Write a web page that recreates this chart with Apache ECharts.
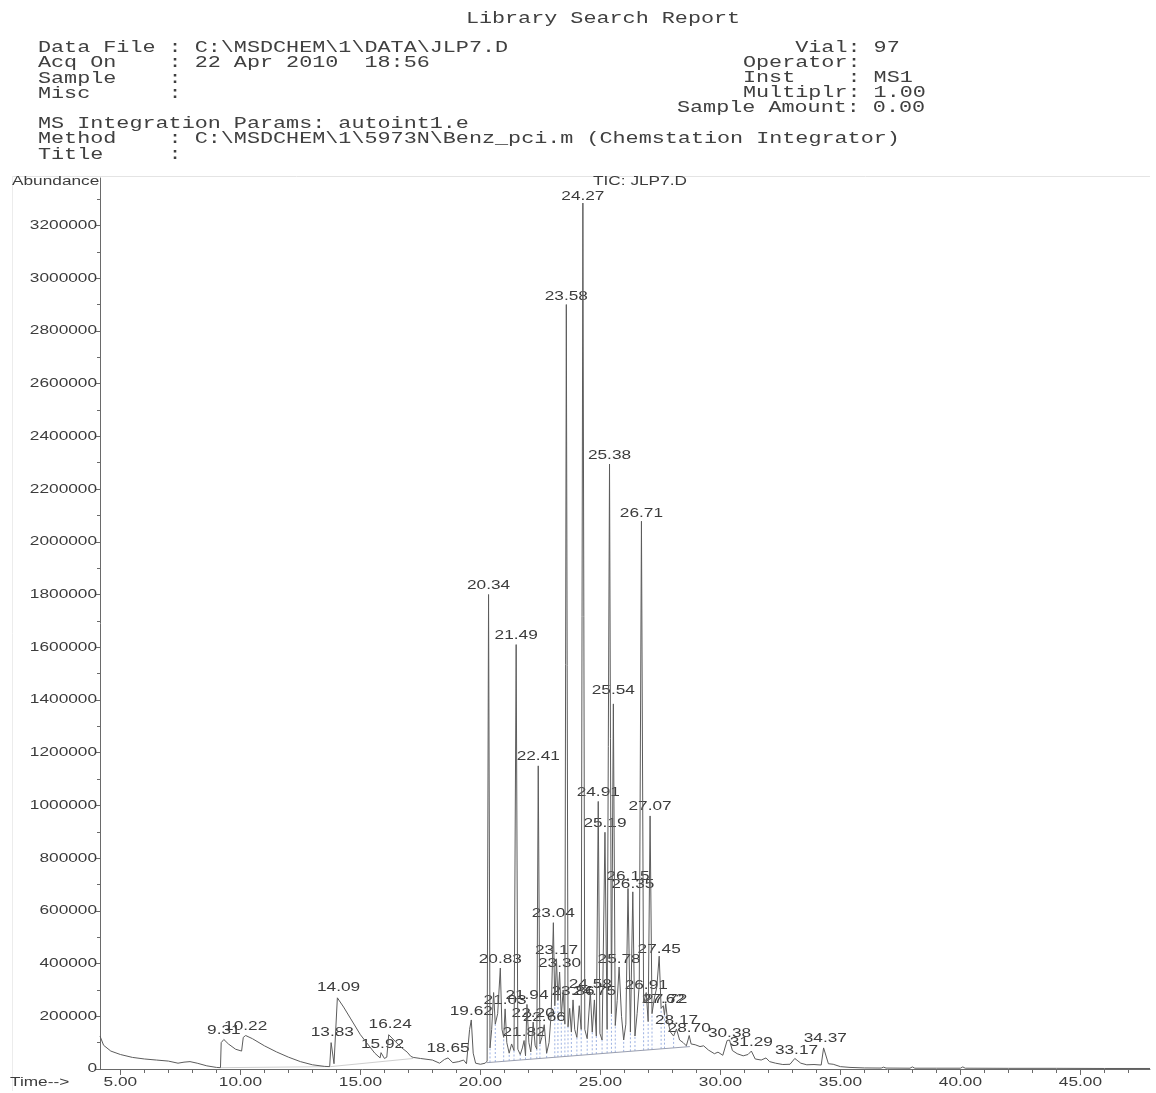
<!DOCTYPE html>
<html><head><meta charset="utf-8">
<script src="https://cdn.jsdelivr.net/npm/echarts@6/dist/echarts.min.js"></script>
<style>html,body{margin:0;padding:0;background:#fff;}#c{width:1156px;height:1093px;}</style>
</head><body><div id="c"></div>
<script>
// ---------- text of the report header ----------
const reportTitle = "Library Search Report";
const headerLeft = [
  "Data File : C:\\MSDCHEM\\1\\DATA\\JLP7.D",
  "Acq On    : 22 Apr 2010  18:56",
  "Sample    :",
  "Misc      :",
  "",
  "MS Integration Params: autoint1.e",
  "Method    : C:\\MSDCHEM\\1\\5973N\\Benz_pci.m (Chemstation Integrator)",
  "Title     :"
];
const headerRight = [
  "    Vial: 97",
  "Operator:",
  "Inst    : MS1",
  "Multiplr: 1.00",
  "Sample Amount: 0.00"
];
const yAxisName = "Abundance";
const xAxisName = "Time-->";
const traceName = "TIC: JLP7.D";

// ---------- axis ticks ----------
const xTicks = [5, 10, 15, 20, 25, 30, 35, 40, 45];
const xMinorTicks = [5,6,7,8,9,10,11,12,13,14,15,16,17,18,19,20,21,22,23,24,25,26,27,28,29,30,31,32,33,34,35,36,37,38,39,40,41,42,43,44,45,46,47];
const yTicks = [0,200000,400000,600000,800000,1000000,1200000,1400000,1600000,1800000,2000000,2200000,2400000,2600000,2800000,3000000,3200000];
const yMinorTicks = [100000,300000,500000,700000,900000,1100000,1300000,1500000,1700000,1900000,2100000,2300000,2500000,2700000,2900000,3100000,3300000];

// ---------- TIC trace [time (min), abundance] ----------
const traceEarly = [
  [4.15,125000],[4.3,90000],[4.6,68000],[5.0,55000],[5.5,44000],[6.0,38000],[6.5,34000],[7.0,30000],
  [7.4,22000],[7.65,26000],[7.9,28000],[8.2,22000],[8.6,12000],[9.0,6000],[9.17,5000],
  [9.2,100000],[9.31,112000],[9.5,95000],[9.8,75000],[10.05,68000],[10.12,120000],[10.22,127000],
  [10.5,115000],[11.0,88000],[11.5,65000],[12.0,45000],[12.5,28000],[13.0,16000],[13.5,10000],
  [13.72,9000],[13.78,100000],[13.83,104000],[13.9,20000],[13.98,15000],[14.04,270000],[14.09,276000],
  [14.3,235000],[14.6,190000],[15.0,130000],[15.3,95000],[15.6,60000],[15.82,42000],[15.86,62000],
  [15.92,66000],[16.0,40000],[16.1,45000],[16.18,130000],[16.24,136000],[16.45,105000],[16.7,82000],
  [16.95,64000],[17.1,48000],[17.2,44000],[17.5,40000],[18.0,34000],[18.3,22000],[18.5,36000],
  [18.65,42000],[18.85,24000],[19.1,28000],[19.3,34000],[19.42,20000],[19.55,150000],[19.62,186000],
  [19.7,60000],[19.8,22000],[20.0,18000]
];
const traceCluster = [
  [20.2,22000],[20.28,30000],[20.34,1800000],[20.40,80000],[20.47,150000],[20.55,290000],[20.62,170000],
  [20.72,210000],[20.83,383000],[20.90,150000],[20.97,120000],[21.03,228000],[21.10,100000],[21.20,60000],
  [21.30,95000],[21.40,70000],[21.49,1610000],[21.56,75000],[21.66,55000],[21.75,80000],[21.82,108000],
  [21.88,50000],[21.94,245000],[22.02,100000],[22.10,65000],[22.20,178000],[22.28,90000],[22.35,75000],
  [22.41,1150000],[22.48,95000],[22.56,120000],[22.66,168000],[22.76,60000],[22.86,100000],[22.95,210000],
  [23.04,555000],[23.10,240000],[23.17,418000],[23.23,260000],[23.30,368000],[23.37,200000],[23.45,300000],
  [23.52,170000],[23.58,2900000],[23.65,160000],[23.72,230000],[23.79,140000],[23.86,262000],[23.93,150000],
  [24.02,120000],[24.12,240000],[24.20,150000],[24.27,3285000],[24.35,150000],[24.45,115000],[24.58,292000],
  [24.66,140000],[24.75,262000],[24.83,125000],[24.91,1015000],[24.98,135000],[25.07,110000],[25.19,898000],
  [25.28,150000],[25.38,2295000],[25.46,210000],[25.54,1385000],[25.62,165000],[25.70,260000],[25.78,387000],
  [25.88,200000],[25.97,110000],[26.06,170000],[26.15,685000],[26.25,140000],[26.35,672000],[26.44,125000],
  [26.53,210000],[26.62,320000],[26.71,2078000],[26.80,250000],[26.91,290000],[26.99,180000],[27.07,960000],
  [27.15,210000],[27.25,270000],[27.35,310000],[27.45,428000],[27.53,230000],[27.62,240000],[27.67,205000],
  [27.72,248000],[27.80,185000],[27.92,140000],[28.05,125000],[28.17,152000],[28.30,110000],[28.45,100000],
  [28.58,88000],[28.65,110000],[28.70,127000],[28.78,95000]
];
const traceTail = [
  [28.95,92000],[29.15,85000],[29.3,88000],[29.5,72000],[29.75,58000],[29.9,64000],[30.1,52000],
  [30.28,108000],[30.38,110000],[30.5,70000],[30.7,58000],[30.95,50000],[31.15,55000],[31.29,68000],
  [31.45,38000],[31.7,34000],[31.9,42000],[32.05,28000],[32.3,22000],[32.6,17000],[32.9,18000],
  [33.1,40000],[33.17,42000],[33.35,22000],[33.6,16000],[33.9,17000],[34.2,15000],[34.3,80000],
  [34.37,82000],[34.5,20000],[34.7,18000],[35.0,9000],[35.4,6000],[36.0,4000],[36.7,3500],[36.8,7000],
  [36.9,3500],[37.9,3000],[38.0,8000],[38.1,3000],[39.0,3000],[40.0,3000],[40.1,8000],[40.2,3000],
  [42.0,2500],[44.0,2500],[46.0,2000],[47.9,2000]
];

// ---------- integration baselines [time, abundance] ----------
const baselineA = [[9.18,5000],[13.72,9000]];
const baselineB = [[13.75,9000],[17.2,40000]];
const baselineCluster = [[20.26,24000],[28.73,85000]];

// ---------- peak labels [retention time text, abundance at label] ----------
const peakLabels = [
  ["9.31",117000],["10.22",133000],["13.83",110000],["14.09",280000],["15.92",64000],["16.24",140000],
  ["18.65",49000],["19.62",190000],["20.34",1805000],["20.83",387000],["21.03",231000],["21.49",1615000],
  ["21.82",110000],["21.94",250000],["22.20",182000],["22.41",1156000],["22.66",167000],["23.04",561000],
  ["23.17",421000],["23.30",371000],["23.58",2900000],["23.86",265000],["24.27",3283000],["24.58",292000],
  ["24.75",265000],["24.91",1020000],["25.19",902000],["25.38",2297000],["25.54",1406000],["25.78",387000],
  ["26.15",701000],["26.35",671000],["26.71",2077000],["26.91",288000],["27.07",967000],["27.45",425000],
  ["27.62",235000],["27.72",235000],["28.17",155000],["28.70",125000],["30.38",106000],["31.29",72000],
  ["33.17",42000],["34.37",87000]
];

// ---------- build ----------
const trace = traceEarly.concat(traceCluster, traceTail);

function baseAt(t) {
  const a = baselineCluster[0], b = baselineCluster[1];
  return a[1] + (b[1] - a[1]) * (t - a[0]) / (b[0] - a[0]);
}
const dropLines = [];
for (let i = 1; i < traceCluster.length - 1; i++) {
  const p = traceCluster[i];
  if (p[0] > baselineCluster[0][0] && p[0] < baselineCluster[1][0] &&
      p[1] < traceCluster[i-1][1] && p[1] < traceCluster[i+1][1]) {
    dropLines.push([p[0], baseAt(p[0]), p[1]]);
  }
}

const SX = 1.38;
const labelFont = '12.5px "Liberation Sans", Arial, sans-serif';
const monoFont = '16px "Liberation Mono", "Courier New", monospace';
const MONO_SX = 1.36;
const textColor = '#3c3c3c';
const headColor = '#404040';

const graphics = [];
graphics.push({type:'line', shape:{x1:12, y1:176.5, x2:1150, y2:176.5}, style:{stroke:'#e4e4e4', lineWidth:1}, silent:true});
graphics.push({type:'line', shape:{x1:12.5, y1:176, x2:12.5, y2:1091}, style:{stroke:'#ececec', lineWidth:1}, silent:true});
graphics.push({type:'text', x:603, y:19, scaleX:MONO_SX, style:{text:reportTitle, font:monoFont, fill:headColor, align:'center', textAlign:'center', verticalAlign:'middle', textVerticalAlign:'middle'}});
headerLeft.forEach((s, i) => {
  if (!s) return;
  graphics.push({type:'text', x:38, y:48 + i*15.2, scaleX:MONO_SX, style:{text:s, font:monoFont, fill:headColor, verticalAlign:'middle', textVerticalAlign:'middle'}});
});
headerRight.forEach((s, i) => {
  graphics.push({type:'text', x:(i === 4 ? 677 : 743), y:48 + i*15, scaleX:MONO_SX, style:{text:s, font:monoFont, fill:headColor, verticalAlign:'middle', textVerticalAlign:'middle'}});
});
graphics.push({type:'text', x:12, y:182, scaleX:SX, style:{text:yAxisName, font:labelFont, fill:textColor, verticalAlign:'middle', textVerticalAlign:'middle'}});
graphics.push({type:'text', x:640, y:182, scaleX:SX, style:{text:traceName, font:labelFont, fill:textColor, align:'center', textAlign:'center', verticalAlign:'middle', textVerticalAlign:'middle'}});
graphics.push({type:'text', x:10, y:1083, scaleX:SX, style:{text:xAxisName, font:labelFont, fill:textColor, verticalAlign:'middle', textVerticalAlign:'middle'}});

const XMIN = 4.15, XMAX = 47.9, YMAX = 3380000;
const axisColor = '#6a6a6a';

function stretchedText(x, y, text, align, vAlign) {
  return {type:'text', x:x, y:y, scaleX:SX,
          style:{text:text, font:labelFont, fill:textColor,
                 align:align, textAlign:align, verticalAlign:vAlign, textVerticalAlign:vAlign}};
}

const chart = echarts.init(document.getElementById('c'), null, {renderer:'canvas'});
chart.setOption({
  animation:false,
  backgroundColor:'#ffffff',
  grid:{left:100, right:6, top:178, bottom:24},
  xAxis:[
    {type:'value', min:XMIN, max:XMAX,
     axisLine:{lineStyle:{color:axisColor, width:1}},
     axisTick:{customValues:xTicks, length:6, lineStyle:{color:axisColor}},
     axisLabel:{show:false},
     splitLine:{show:false}},
    {type:'value', min:XMIN, max:XMAX, position:'bottom',
     axisLine:{show:false},
     axisTick:{customValues:xMinorTicks, length:4, lineStyle:{color:axisColor}},
     axisLabel:{show:false}, splitLine:{show:false}}
  ],
  yAxis:[
    {type:'value', min:0, max:YMAX,
     axisLine:{show:true, lineStyle:{color:axisColor, width:1}},
     axisTick:{show:true, customValues:yTicks, length:5, lineStyle:{color:axisColor}},
     axisLabel:{show:false},
     splitLine:{show:false}},
    {type:'value', min:0, max:YMAX, position:'left',
     axisLine:{show:false},
     axisTick:{show:true, customValues:yMinorTicks, length:3, lineStyle:{color:axisColor}},
     axisLabel:{show:false}, splitLine:{show:false}}
  ],
  graphic:graphics,
  series:[
    {type:'custom', name:'drop', coordinateSystem:'cartesian2d', silent:true, data:dropLines, encode:{x:0, y:[1,2]},
     renderItem:(params, api) => {
       const t = api.value(0);
       const p1 = api.coord([t, api.value(1)]);
       const p2 = api.coord([t, api.value(2)]);
       return {type:'line', shape:{x1:p1[0], y1:p1[1], x2:p2[0], y2:p2[1]}, style:{stroke:'#9db2e2', lineWidth:1, lineDash:[2,2]}};
     }},
    {type:'line', name:'baseA', data:baselineA, symbol:'none', silent:true, lineStyle:{color:'#cfcfcf', width:1}},
    {type:'line', name:'baseB', data:baselineB, symbol:'none', silent:true, lineStyle:{color:'#cfcfcf', width:1}},
    {type:'line', name:'baseCluster', data:baselineCluster, symbol:'none', silent:true, lineStyle:{color:'#9a9fb0', width:1}},
    {type:'line', name:'TIC', data:trace, symbol:'none', silent:true, lineStyle:{color:'#5c5c5c', width:1}},
    {type:'custom', name:'labels', coordinateSystem:'cartesian2d', silent:true, clip:false,
     data:peakLabels.map(d => [parseFloat(d[0]), d[1]]), encode:{x:0, y:1},
     renderItem:(params, api) => {
       const p = api.coord([api.value(0), api.value(1)]);
       return stretchedText(p[0], p[1] - 1, peakLabels[params.dataIndex][0], 'center', 'bottom');
     }},
    {type:'custom', name:'yTickLabels', coordinateSystem:'cartesian2d', silent:true, clip:false,
     data:yTicks.map(v => [XMIN, v]), encode:{x:0, y:1},
     renderItem:(params, api) => {
       const p = api.coord([api.value(0), api.value(1)]);
       return stretchedText(p[0] - 3, p[1], String(yTicks[params.dataIndex]), 'right', 'middle');
     }},
    {type:'custom', name:'xTickLabels', coordinateSystem:'cartesian2d', silent:true, clip:false,
     data:xTicks.map(t => [t, 0]), encode:{x:0, y:1},
     renderItem:(params, api) => {
       const p = api.coord([api.value(0), api.value(1)]);
       return stretchedText(p[0], p[1] + 14, xTicks[params.dataIndex].toFixed(2), 'center', 'middle');
     }}
  ]
});
</script></body></html>
